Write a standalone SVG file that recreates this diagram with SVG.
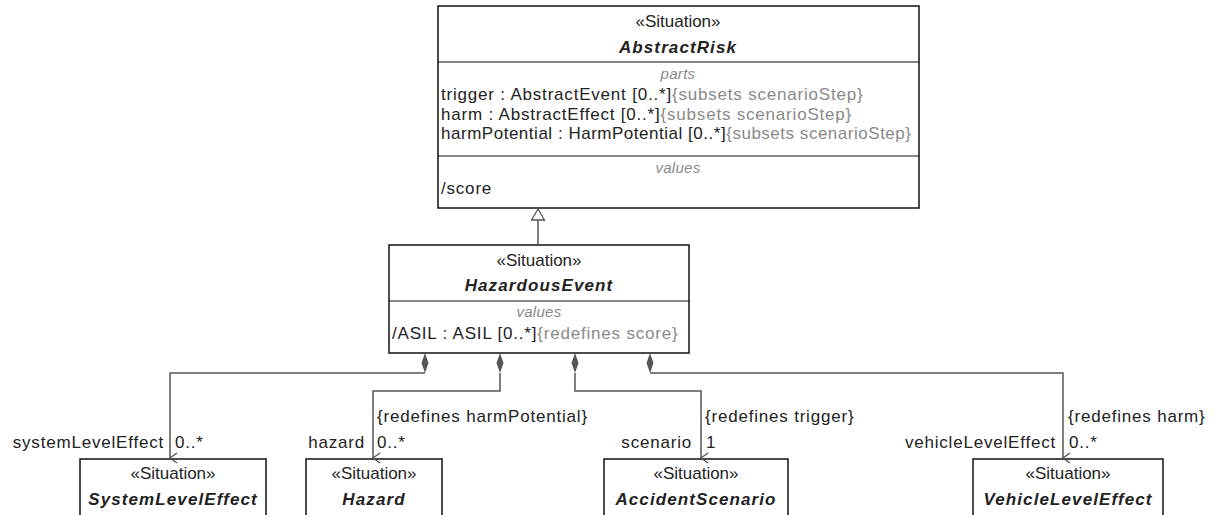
<svg xmlns="http://www.w3.org/2000/svg" width="1215" height="515" viewBox="0 0 1215 515">
<style>
text{font-family:"Liberation Sans",Arial,sans-serif;font-size:17px;letter-spacing:0.8px;fill:#222}
.box{fill:#fff;stroke:#111;stroke-width:1.5}
.sep{stroke:#111;stroke-width:1.2}
.st{text-anchor:middle;letter-spacing:0}
.nm{text-anchor:middle;font-weight:bold;font-style:italic;font-size:17px;letter-spacing:1.1px}
.cmp{text-anchor:middle;font-style:italic;font-size:15px;letter-spacing:0.3px;fill:#8a8a8a}
.g{fill:#8a8a8a}
.ln{fill:none;stroke:#555;stroke-width:1.5}
</style>
<defs>
<marker id="open" markerWidth="12" markerHeight="12" refX="6" refY="10" orient="auto" markerUnits="userSpaceOnUse" viewBox="0 0 12 12">
<path d="M1,3 L6,10 L11,3" fill="none" stroke="#555" stroke-width="1.4"/>
</marker>
</defs>
<g id="AbstractRisk">
<rect class="box" x="438" y="6" width="481" height="202"/>
<line class="sep" x1="438" y1="62" x2="919" y2="62"/>
<line class="sep" x1="438" y1="156" x2="919" y2="156"/>
<text class="st" x="678" y="27">«Situation»</text>
<text class="nm" x="678" y="53">AbstractRisk</text>
<text class="cmp" x="678" y="79">parts</text>
<text x="441" y="100">trigger : AbstractEvent [0..*]<tspan class="g">{subsets scenarioStep}</tspan></text>
<text x="441" y="120">harm : AbstractEffect [0..*]<tspan class="g">{subsets scenarioStep}</tspan></text>
<text x="441" y="139" style="letter-spacing:0.52px">harmPotential : HarmPotential [0..*]<tspan class="g">{subsets scenarioStep}</tspan></text>
<text class="cmp" x="678" y="173">values</text>
<text x="441" y="194">/score</text>
</g>
<g id="HazardousEvent">
<rect class="box" x="389" y="245" width="300" height="108"/>
<line class="sep" x1="389" y1="301" x2="689" y2="301"/>
<text class="st" x="539" y="266">«Situation»</text>
<text class="nm" x="539" y="291">HazardousEvent</text>
<text class="cmp" x="539" y="317">values</text>
<text x="392" y="339">/ASIL : ASIL [0..*]<tspan class="g">{redefines score}</tspan></text>
</g>
<g id="SystemLevelEffect">
<rect class="box" x="80" y="459" width="186" height="60"/>
<text class="st" x="173" y="479">«Situation»</text>
<text class="nm" x="173" y="505">SystemLevelEffect</text>
</g>
<g id="Hazard">
<rect class="box" x="306" y="459" width="136" height="60"/>
<text class="st" x="374" y="479">«Situation»</text>
<text class="nm" x="374" y="505">Hazard</text>
</g>
<g id="AccidentScenario">
<rect class="box" x="604" y="459" width="184" height="60"/>
<text class="st" x="696" y="479">«Situation»</text>
<text class="nm" x="696" y="505">AccidentScenario</text>
</g>
<g id="VehicleLevelEffect">
<rect class="box" x="973" y="459" width="190" height="60"/>
<text class="st" x="1068" y="479">«Situation»</text>
<text class="nm" x="1068" y="505">VehicleLevelEffect</text>
</g>
<g id="connectors">
<line class="ln" x1="538" y1="220" x2="538" y2="245"/>
<path d="M538,209 L531.5,220 L544.5,220 Z" fill="#fff" stroke="#555" stroke-width="1.3"/>
<path class="ln" d="M425,373 L170,373 L170,458" marker-end="url(#open)"/>
<path class="ln" d="M500,373 L500,391 L373,391 L373,458" marker-end="url(#open)"/>
<path class="ln" d="M575,373 L575,391 L701,391 L701,458" marker-end="url(#open)"/>
<path class="ln" d="M650,373 L1063,373 L1063,458" marker-end="url(#open)"/>
<path d="M425,353 L428.5,363 L425,373 L421.5,363 Z" fill="#555"/>
<path d="M500,353 L503.5,363 L500,373 L496.5,363 Z" fill="#555"/>
<path d="M575,353 L578.5,363 L575,373 L571.5,363 Z" fill="#555"/>
<path d="M650,353 L653.5,363 L650,373 L646.5,363 Z" fill="#555"/>
<text x="164" y="448" text-anchor="end">systemLevelEffect</text>
<text x="175" y="448">0..*</text>
<text x="365" y="448" text-anchor="end">hazard</text>
<text x="377" y="448">0..*</text>
<text x="377" y="422">{redefines harmPotential}</text>
<text x="692" y="448" text-anchor="end">scenario</text>
<text x="706" y="448">1</text>
<text x="705" y="422">{redefines trigger}</text>
<text x="1056" y="448" text-anchor="end">vehicleLevelEffect</text>
<text x="1069" y="448">0..*</text>
<text x="1068" y="422">{redefines harm}</text>
</g>
</svg>
